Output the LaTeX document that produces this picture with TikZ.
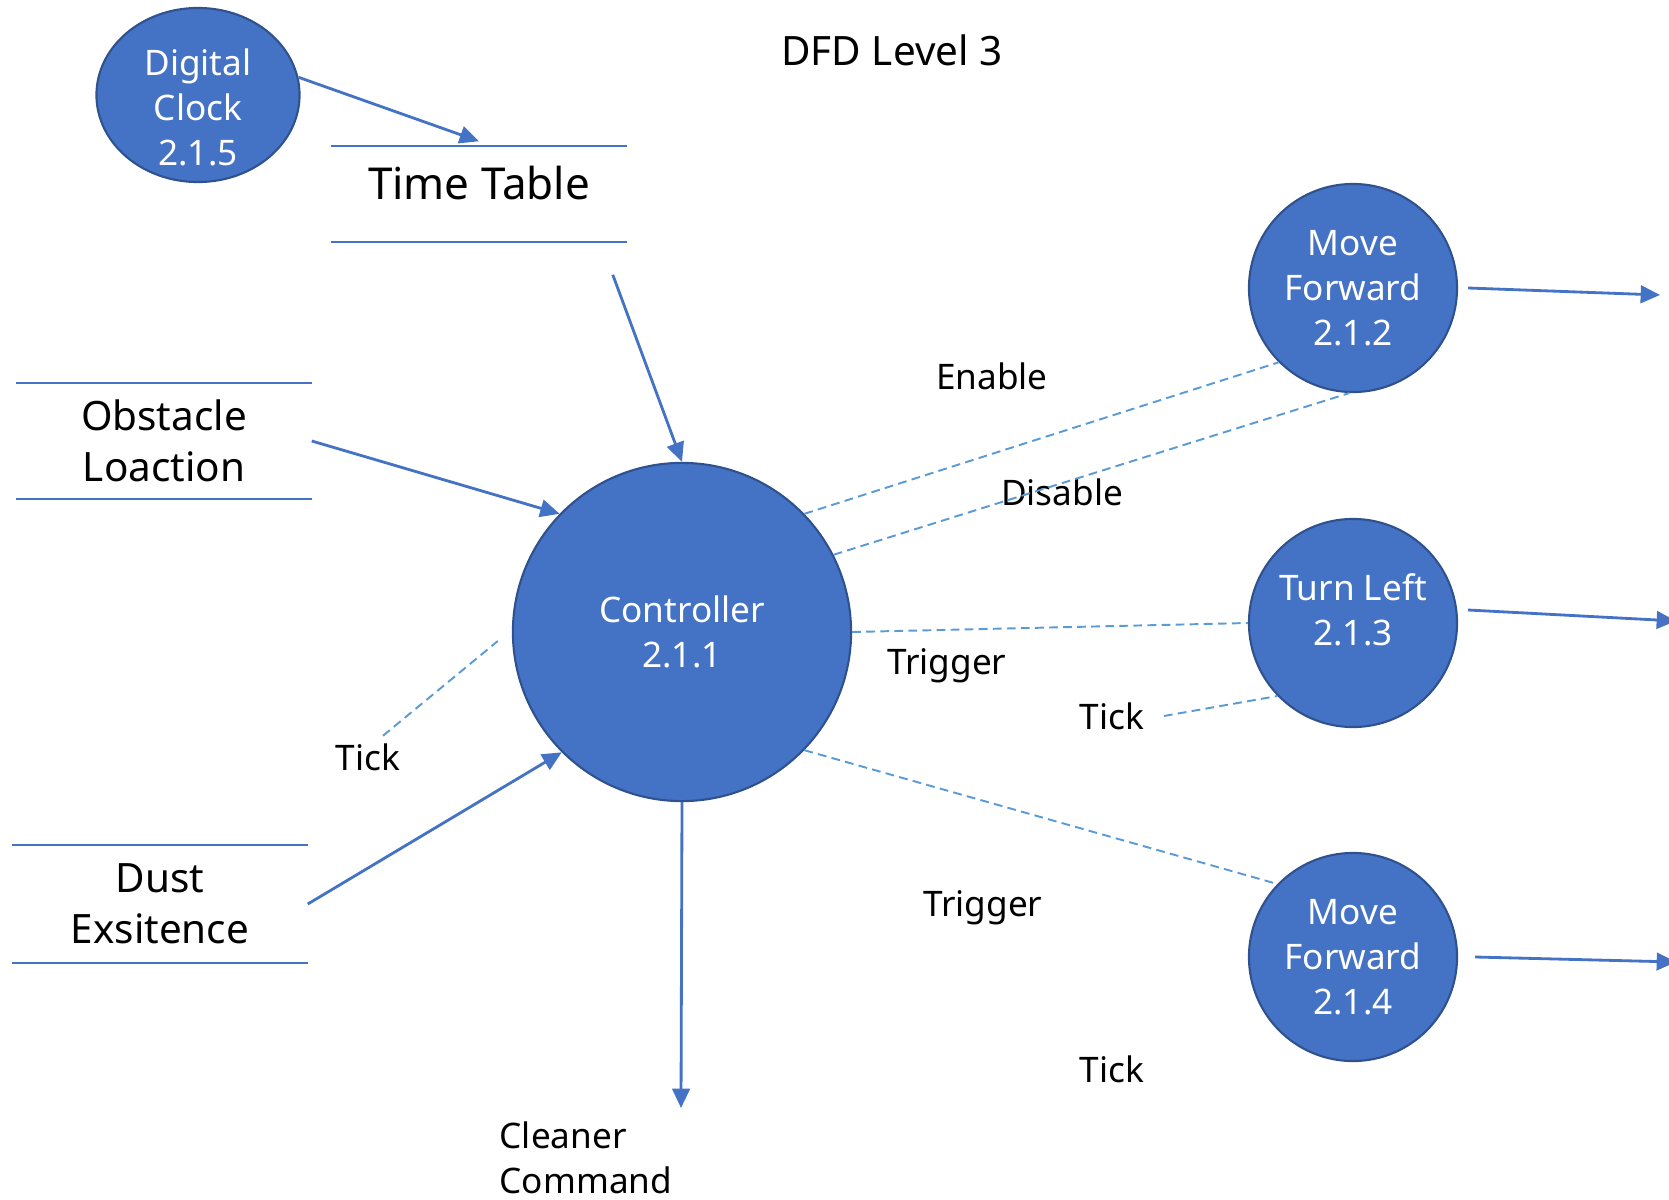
\documentclass[tikz,border=0pt]{standalone}
\usepackage{fontspec}
\setmainfont{Noto Sans}
\usetikzlibrary{arrows.meta,positioning,shapes.geometric}
\definecolor{procblue}{HTML}{4472C4}
\definecolor{procedge}{HTML}{2F528F}
\definecolor{ctrlblue}{HTML}{5B9BD5}
\tikzset{
  >={Triangle[length=5.5pt,width=5pt]},
  every node/.append style={font=\fontsize{10}{12.8}\selectfont},
}
\tikzset{
  process/.style={circle, draw=procedge, fill=procblue, line width=0.6pt, text=white, align=center, inner sep=0pt},
  store/.style={align=center, minimum width=2.94cm, inner sep=0pt, font=\fontsize{11.5}{14.5}\selectfont},
  storeline/.style={draw=procblue, line width=0.6pt},
  flow/.style={->, draw=procblue, line width=0.8pt},
  ctrlflow/.style={draw=ctrlblue, line width=0.55pt, dash pattern=on 2.5pt off 1.5pt}
}
\begin{document}
\begin{tikzpicture}[
    x=0.01cm, y=-0.01cm,
    lbl/.style={inner sep=2pt}
]
\useasboundingbox (0,0) rectangle (1669,1200);
\node[font=\fontsize{11.5}{14}\selectfont] (title) at (892,50) {DFD Level 3};

% processes
\node[process, ellipse, minimum width=2.03cm, minimum height=1.74cm, text height=1.41cm, inner ysep=-0.3cm] (dc) at (198,95) {Digital\\Clock\\2.1.5};
\node[process, minimum size=3.38cm] (con) at (682,632) {Controller\\2.1.1};
\node[process, minimum size=2.08cm] (mf1) at (1353,288) {Move\\Forward\\2.1.2};
\node[process, minimum size=2.08cm, text depth=0.26cm] (tl) at (1353,623) {Turn Left\\2.1.3};
\node[process, minimum size=2.08cm] (mf2) at (1353,957) {Move\\Forward\\2.1.4};

% data stores
\node[store, minimum height=0.94cm, text depth=0.22cm, font=\fontsize{12.5}{15}\selectfont] (tt) at (479,194) {Time Table};
\node[store, minimum height=1.15cm] (ob) at (164,441) {Obstacle\\Loaction};
\node[store, minimum height=1.16cm] (du) at (160,904) {Dust\\Exsitence};
\draw[storeline] (tt.north west) -- (tt.north east) (tt.south west) -- (tt.south east);
\draw[storeline] (ob.north west) -- (ob.north east) (ob.south west) -- (ob.south east);
\draw[storeline] (du.north west) -- (du.north east) (du.south west) -- (du.south east);

% labels
\node[lbl] (tk1) at (368,757) {Tick};
\node[lbl] (en) at (992,376) {Enable};
\node[lbl] (dis) at (1062,492) {Disable};
\node[lbl] (tr1) at (947,666) {Trigger};
\node[lbl] (tk2) at (1112,716) {Tick};
\node[lbl] (tr2) at (983,908) {Trigger};
\node[lbl] (tk3) at (1112,1069) {Tick};
\node[lbl, align=left, anchor=north west] (cmd) at (492,1114) {Cleaner\\Command};

\coordinate (cmdend) at (681,1108);
\coordinate (out1) at (1660,295);
\coordinate (out2) at (1676,621);
\coordinate (out3) at (1676,962);

% data flows
\draw[flow] (dc.10) -- ([yshift=0.05cm]tt.north);
\draw[flow] ([shift={(-0.14cm,-0.33cm)}]tt.south east) -- (con.north);
\draw[flow] (ob.east) -- (con.136);
\draw[flow] (du.east) -- (con.225);
\draw[flow] (con.south) -- (cmdend);
\draw[flow] ([xshift=0.1cm]mf1.east) -- (out1);
\draw[flow] ([shift={(0.1cm,0.13cm)}]tl.east) -- (out2);
\draw[flow] ([xshift=0.17cm]mf2.east) -- (out3);

% control flows
\draw[ctrlflow] ([xshift=0.15cm]tk1.north) -- ([shift={(-0.14cm,-0.09cm)}]con.west);
\draw[ctrlflow] (con.44) -- (mf1.225);
\draw[ctrlflow] (con.27) -- (mf1.268);
\draw[ctrlflow] (con.east) -- (tl.west);
\draw[ctrlflow] ([xshift=0.12cm]tk2.east) -- (tl.224);
\draw[ctrlflow] (con.-44) -- (mf2.136);
\end{tikzpicture}
\end{document}
